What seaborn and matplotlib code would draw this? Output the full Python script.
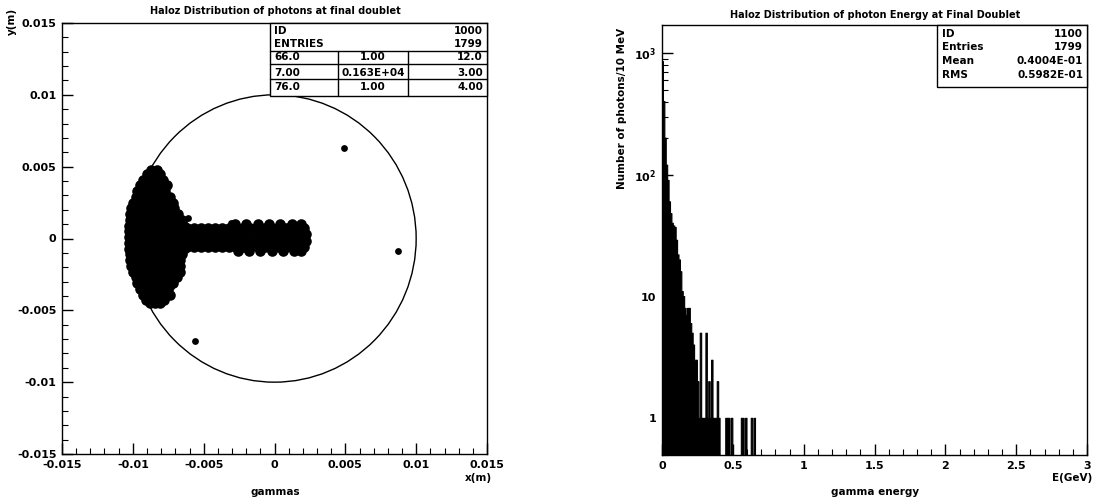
import numpy as np
import pandas as pd
import matplotlib
matplotlib.use("Agg")
import matplotlib.pyplot as plt
from matplotlib.patches import Circle, Rectangle
from matplotlib.lines import Line2D
from matplotlib.ticker import MultipleLocator, LogLocator, NullFormatter
import seaborn as sns

# ---------------- data (left panel: photon hit positions, units of 1e-4 m) -------------
head_rows = [
    (48, [-87, -83]),
    (45, [-90, -86, -81]),
    (41, [-93, -88, -83, -79]),
    (37, [-95, -90, -85, -80, -76]),
    (33, [-97, -92, -87, -82, -77]),
    (29, [-98, -93, -88, -83, -78, -74]),
    (25, [-100, -95, -90, -85, -80, -75, -72]),
    (21, [-101, -96, -91, -86, -81, -76, -71]),
    (17, [-102, -97, -92, -87, -82, -77, -72, -68]),
    (13, [-102, -98, -93, -88, -83, -78, -73, -68, -65]),
    (9, [-103, -98, -93, -88, -83, -78, -73, -68, -64]),
    (5, [-103, -99, -94, -89, -84, -79, -74, -69, -64]),
    (1, [-103, -99, -94, -89, -84, -79, -74, -69, -64]),
    (-3, [-103, -99, -94, -89, -84, -79, -74, -69, -64]),
    (-7, [-103, -98, -93, -88, -83, -78, -73, -68, -64]),
    (-11, [-102, -98, -93, -88, -83, -78, -73, -68, -65]),
    (-15, [-102, -97, -92, -87, -82, -77, -72, -67]),
    (-19, [-101, -96, -91, -86, -81, -76, -71, -67]),
    (-23, [-100, -95, -90, -85, -80, -75, -70, -67]),
    (-27, [-98, -93, -88, -83, -78, -73, -69]),
    (-31, [-97, -92, -87, -82, -77, -72]),
    (-35, [-95, -90, -85, -80, -75]),
    (-39, [-93, -88, -83, -78, -74]),
    (-43, [-91, -87, -82, -78]),
    (-45, [-88, -84, -81]),
]
tail_rows = [
    (10, [-28, -20, -12, -4, 4, 12, 19]),
    (7, [-62, -57, -52, -47, -42, -37, -32, -27, -22, -17, -12, -7, -2, 3, 8, 13, 18, 21]),
    (3, [-62, -57, -52, -47, -42, -37, -32, -27, -22, -17, -12, -7, -2, 3, 8, 13, 18, 22]),
    (-2, [-62, -57, -52, -47, -42, -37, -32, -27, -22, -17, -12, -7, -2, 3, 8, 13, 18, 22]),
    (-6, [-62, -57, -52, -47, -42, -37, -32, -27, -22, -17, -12, -7, -2, 3, 8, 13, 18, 21]),
    (-9, [-26, -18, -10, -2, 6, 14, 19]),
]
stray_x = [-61, -73, -31, 49, 87, -56]
stray_y = [14, -34, 11, 63, -9, -71]

# ---------------- data (right panel: energy histogram, 10 MeV bins) -------------
energy_counts = [850, 400, 200, 120, 90, 60, 48, 40, 38, 37,
                 29, 22, 20, 16, 11, 10, 8, 7, 8, 8,
                 6, 5, 4, 3, 3, 2, 1, 5, 1, 1,
                 1, 5, 1, 2, 1, 3, 1, 1, 1, 2,
                 1, 0, 0, 0, 0, 1, 1, 1, 0, 1,
                 0, 0, 0, 0, 0, 0, 1, 1, 0, 1,
                 0, 0, 0, 1, 0, 1]
bin_width = 0.01  # GeV

xy_ticks = [-0.015, -0.01, -0.005, 0, 0.005, 0.01, 0.015]
xy_tick_labels = ["-0.015", "-0.01", "-0.005", "0", "0.005", "0.01", "0.015"]
e_ticks = [0, 0.5, 1, 1.5, 2, 2.5, 3]
e_tick_labels = ["0", "0.5", "1", "1.5", "2", "2.5", "3"]
n_ticks = [1, 10, 100, 1000]
n_tick_labels = ["1", "10", "10$^{2}$", "10$^{3}$"]

left_stats = [("ID", "1000"), ("ENTRIES", "1799")]
left_grid = [("66.0", "1.00", "12.0"), ("7.00", "0.163E+04", "3.00"), ("76.0", "1.00", "4.00")]
right_stats = [("ID", "1100"), ("Entries", "1799"), ("Mean", "0.4004E-01"), ("RMS", "0.5982E-01")]

# ---------------- build tables -------------
px, py = [], []
for y, xs in head_rows + tail_rows:
    for x in xs:
        px.append(x * 1e-4)
        py.append(y * 1e-4)
cloud = pd.DataFrame({"x": px, "y": py})
strays = pd.DataFrame({"x": [v * 1e-4 for v in stray_x], "y": [v * 1e-4 for v in stray_y]})

nb = len(energy_counts)
centers = [(k + 0.5) * bin_width for k in range(nb)]
spec = pd.DataFrame({"E": centers, "n": [float(c) for c in energy_counts]})

# ---------------- figure -------------
sns.set_theme(style="white")
plt.rcParams["font.family"] = ["DejaVu Sans"]
plt.rcParams["mathtext.default"] = "bf"

W, H = 1093, 499
fig = plt.figure(figsize=(W / 100, H / 100), dpi=100)
fig.patch.set_facecolor("white")

def fx(p):
    return p / W

def fy(p):
    return 1 - p / H

axL = fig.add_axes([fx(62), fy(454), fx(487) - fx(62), fy(23) - fy(454)])
axR = fig.add_axes([fx(662), fy(455), fx(1087) - fx(662), fy(25) - fy(455)])

TK = dict(fontsize=8, fontweight="bold", color="black")

# left panel
sns.scatterplot(data=cloud, x="x", y="y", color="black", s=58, linewidth=0, ax=axL, legend=False)
sns.scatterplot(data=strays, x="x", y="y", color="black", s=24, linewidth=0, ax=axL, legend=False)
axL.add_patch(Circle((0, 0), 0.01, fill=False, color="black", lw=1.0))
axL.set_xlim(-0.015, 0.015)
axL.set_ylim(-0.015, 0.015)
axL.set_xticks(xy_ticks)
axL.set_xticklabels(xy_tick_labels, **TK)
axL.set_yticks(xy_ticks)
axL.set_yticklabels(xy_tick_labels, **TK)
axL.xaxis.set_minor_locator(MultipleLocator(0.001))
axL.yaxis.set_minor_locator(MultipleLocator(0.001))
axL.set_xlabel("")
axL.set_ylabel("")

# right panel
sns.histplot(data=spec, x="E", weights="n", binwidth=bin_width, binrange=(0, 3),
             element="step", fill=True, color="black", edgecolor="black",
             linewidth=0.8, alpha=1.0, ax=axR)
axR.set_yscale("log")
axR.set_xlim(0, 3)
axR.set_ylim(0.5, 1700)
axR.set_xticks(e_ticks)
axR.set_xticklabels(e_tick_labels, **TK)
axR.set_yticks(n_ticks)
axR.set_yticklabels(n_tick_labels, **TK)
axR.xaxis.set_minor_locator(MultipleLocator(0.1))
axR.yaxis.set_minor_locator(LogLocator(base=10, subs=(2, 3, 4, 5, 6, 7, 8, 9)))
axR.yaxis.set_minor_formatter(NullFormatter())
axR.set_xlabel("")
axR.set_ylabel("")

for ax in (axL, axR):
    ax.set_facecolor("white")
    for s in ax.spines.values():
        s.set_visible(True)
        s.set_color("black")
        s.set_linewidth(1.0)
    ax.tick_params(which="major", direction="in", length=8, width=1, color="black",
                   bottom=True, left=True, top=False, right=False, pad=4)
    ax.tick_params(which="minor", direction="in", length=4, width=0.8, color="black",
                   bottom=True, left=True, top=False, right=False)
    ax.grid(False)

def axL_pt(x, y):
    return ((x - 62) / 425, (454 - y) / 431)

def axR_pt(x, y):
    return ((x - 662) / 425, (455 - y) / 430)

ST = dict(fontsize=7.5, fontweight="bold", color="black", va="center")

def box_line(ax, conv, x0, y0, x1, y1, lw=1.0):
    a = conv(x0, y0)
    b = conv(x1, y1)
    ax.add_line(Line2D([a[0], b[0]], [a[1], b[1]], transform=ax.transAxes, color="black",
                       lw=lw, clip_on=False, zorder=6))

# ---- stats box, left ----
r0 = axL_pt(270, 96)
r1 = axL_pt(487, 23)
axL.add_patch(Rectangle(r0, r1[0] - r0[0], r1[1] - r0[1], transform=axL.transAxes,
                        facecolor="white", edgecolor="black", lw=1.0, zorder=5, clip_on=False))
for i, (k, v) in enumerate(left_stats):
    yy = 31 + 13 * i
    axL.text(*axL_pt(274, yy), k, transform=axL.transAxes, ha="left", zorder=7, **ST)
    axL.text(*axL_pt(483, yy), v, transform=axL.transAxes, ha="right", zorder=7, **ST)
for yl in (51, 64, 79):
    box_line(axL, axL_pt, 270, yl, 487, yl)
for xl in (338, 408):
    box_line(axL, axL_pt, xl, 51, xl, 96)
for i, (a, b, c) in enumerate(left_grid):
    yy = 57.5 + 15 * i
    axL.text(*axL_pt(274, yy), a, transform=axL.transAxes, ha="left", zorder=7, **ST)
    axL.text(*axL_pt(373, yy), b, transform=axL.transAxes, ha="center", zorder=7, **ST)
    axL.text(*axL_pt(483, yy), c, transform=axL.transAxes, ha="right", zorder=7, **ST)

# ---- stats box, right ----
r0 = axR_pt(937, 87)
r1 = axR_pt(1087, 25)
axR.add_patch(Rectangle(r0, r1[0] - r0[0], r1[1] - r0[1], transform=axR.transAxes,
                        facecolor="white", edgecolor="black", lw=1.0, zorder=5, clip_on=False))
for i, (k, v) in enumerate(right_stats):
    yy = 34 + 13.5 * i
    axR.text(*axR_pt(942, yy), k, transform=axR.transAxes, ha="left", zorder=7, **ST)
    axR.text(*axR_pt(1083, yy), v, transform=axR.transAxes, ha="right", zorder=7, **ST)

# ---- titles and labels ----
TT = dict(fontsize=7, fontweight="bold", color="black")
fig.text(fx(275), fy(11), "Haloz Distribution of photons at final doublet", ha="center", va="center", **TT)
fig.text(fx(875), fy(15), "Haloz Distribution of photon Energy at Final Doublet", ha="center", va="center", **TT)
LB = dict(fontsize=7.5, fontweight="bold", color="black")
fig.text(fx(12), fy(8), "y(m)", rotation=90, ha="center", va="top", **LB)
fig.text(fx(478), fy(478), "x(m)", ha="center", va="center", **LB)
fig.text(fx(275), fy(492), "gammas", ha="center", va="center", **LB)
fig.text(fx(622), fy(28), "Number of photons/10 MeV", rotation=90, ha="center", va="top", **LB)
fig.text(fx(1072), fy(478), "E(GeV)", ha="center", va="center", **LB)
fig.text(fx(875), fy(492), "gamma energy", ha="center", va="center", **LB)

fig.savefig("out.png", dpi=100, facecolor="white")
